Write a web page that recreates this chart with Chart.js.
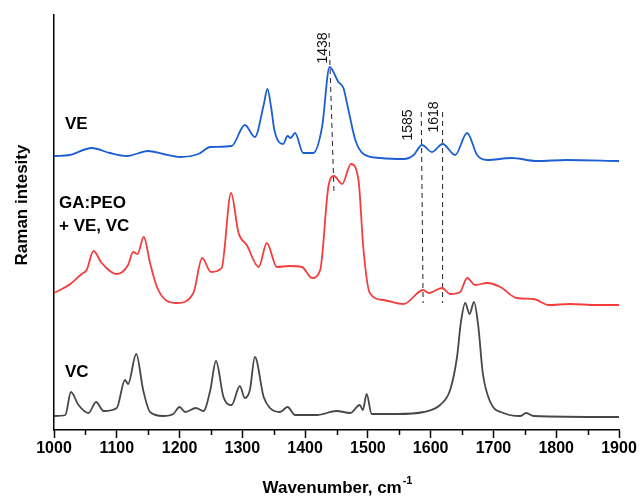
<!DOCTYPE html>
<html>
<head>
<meta charset="utf-8">
<script src="https://cdn.jsdelivr.net/npm/chart.js@4.4.1/dist/chart.umd.min.js"></script>
<style>
  html, body { margin: 0; padding: 0; background: #fff; }
  #wrap { width: 641px; height: 496px; }
</style>
</head>
<body>
<div id="wrap"><canvas id="ramanChart"></canvas></div>
<script>
// Wavenumbers (cm-1) and intensities (arbitrary, stacked offsets)
const veWavenumbers = [1000, 1025, 1060, 1089, 1116, 1150, 1174, 1201, 1230, 1249, 1283, 1304, 1320, 1334, 1340, 1346, 1351, 1365, 1372, 1377, 1384, 1397, 1413, 1427, 1439, 1453, 1461, 1469, 1480, 1493, 1520, 1557, 1573, 1586, 1602, 1619, 1639, 1658, 1674, 1690, 1729, 1769, 1817, 1900];
const veValues = [274, 275, 282, 277, 274, 279, 276, 273, 276, 283, 284, 305, 293, 325, 341, 322, 300, 286, 294, 292, 297, 277, 277, 303, 363, 348, 342, 320, 290, 276, 272, 271, 275, 285, 278, 286, 275, 297, 275, 270, 272, 269, 270, 269];

const mixWavenumbers = [1000, 1026, 1044, 1052, 1063, 1076, 1100, 1118, 1126, 1133, 1143, 1153, 1164, 1180, 1196, 1222, 1236, 1250, 1267, 1282, 1294, 1307, 1326, 1339, 1355, 1375, 1395, 1411, 1424, 1437, 1446, 1459, 1473, 1485, 1493, 1503, 1525, 1557, 1588, 1597, 1618, 1631, 1647, 1658, 1671, 1690, 1711, 1737, 1764, 1788, 1822, 1865, 1900];
const mixValues = [137, 146, 156, 160, 179, 167, 156, 165, 178, 176, 193, 167, 143, 129, 127, 137, 172, 158, 162, 237, 197, 185, 163, 187, 163, 164, 163, 152, 160, 243, 254, 246, 266, 250, 180, 137, 130, 126, 140, 137, 142, 136, 138, 152, 145, 147, 143, 132, 131, 125, 126, 125, 125];

const vcWavenumbers = [1000, 1018, 1027, 1039, 1055, 1067, 1079, 1100, 1113, 1118, 1131, 1142, 1153, 1174, 1190, 1200, 1209, 1226, 1238, 1249, 1258, 1270, 1283, 1296, 1304, 1312, 1320, 1334, 1344, 1360, 1372, 1384, 1419, 1450, 1472, 1487, 1492, 1498, 1506, 1546, 1589, 1615, 1631, 1642, 1648, 1655, 1662, 1669, 1676, 1683, 1695, 1716, 1743, 1752, 1764, 1900];
const vcValues = [14, 15, 38, 25, 17, 28, 19, 22, 50, 46, 76, 40, 18, 14, 16, 23, 18, 22, 19, 40, 69, 33, 25, 44, 32, 40, 73, 33, 22, 18, 23, 15, 15, 19, 17, 25, 20, 36, 16, 16, 18, 25, 40, 73, 107, 127, 116, 128, 103, 57, 28, 17, 14, 17, 14, 13];

// Dashed marker lines: [top x, top y, bottom x, bottom y]
const peakLabels = ['1438', '1585', '1618'];
const peakLines = [
  [1438, 397, 1446, 238],
  [1585, 318, 1588, 127],
  [1619, 318, 1619, 127]
];
const peakLabelPos = [[1428, 382], [1564, 305], [1606, 313]];

const xTicks = [1000, 1100, 1200, 1300, 1400, 1500, 1600, 1700, 1800, 1900];

const FONT = '"Liberation Sans", Arial, sans-serif';

function toPoints(xs, ys) {
  return xs.map((x, i) => ({ x: x, y: ys[i] }));
}

function spectrum(label, xs, ys, color) {
  return {
    label: label,
    data: toPoints(xs, ys),
    borderColor: color,
    borderWidth: 1.8,
    pointRadius: 0,
    cubicInterpolationMode: 'monotone',
    fill: false
  };
}

const datasets = [
  spectrum('VE', veWavenumbers, veValues, '#1b5fd3'),
  spectrum('GA:PEO + VE, VC', mixWavenumbers, mixValues, '#f43d3d'),
  spectrum('VC', vcWavenumbers, vcValues, '#474747')
];

peakLines.forEach((l, i) => {
  datasets.push({
    label: 'peak ' + peakLabels[i],
    data: [{ x: l[0], y: l[1] }, { x: l[2], y: l[3] }],
    borderColor: '#222',
    borderWidth: 1,
    borderDash: [5, 4],
    pointRadius: 0,
    fill: false
  });
});

// Text annotations, minor ticks and axis titles
const decorations = {
  id: 'decorations',
  afterDraw(chart) {
    const { ctx, chartArea, scales } = chart;
    const xs = scales.x, ys = scales.y;
    ctx.save();

    // minor ticks every 50
    ctx.strokeStyle = '#000';
    ctx.lineWidth = 1.5;
    for (let v = 1050; v < 1900; v += 100) {
      const px = Math.round(xs.getPixelForValue(v)) + 0.5;
      ctx.beginPath();
      ctx.moveTo(px, chartArea.bottom);
      ctx.lineTo(px, chartArea.bottom + 5);
      ctx.stroke();
    }

    // peak labels, rotated
    ctx.fillStyle = '#111';
    ctx.font = '14px ' + FONT;
    ctx.textAlign = 'center';
    ctx.textBaseline = 'middle';
    peakLabels.forEach((t, i) => {
      const px = xs.getPixelForValue(peakLabelPos[i][0]);
      const py = ys.getPixelForValue(peakLabelPos[i][1]);
      ctx.save();
      ctx.translate(px, py);
      ctx.rotate(-Math.PI / 2);
      ctx.fillText(t, 0, 0);
      ctx.restore();
    });

    // series labels
    ctx.fillStyle = '#000';
    ctx.font = 'bold 17px ' + FONT;
    ctx.textAlign = 'left';
    ctx.fillText('VE', 65, 124);
    ctx.fillText('GA:PEO', 59, 203);
    ctx.fillText('+ VE, VC', 59, 226);
    ctx.fillText('VC', 65, 372);

    // y title
    ctx.save();
    ctx.translate(22, 205);
    ctx.rotate(-Math.PI / 2);
    ctx.textAlign = 'center';
    ctx.font = 'bold 17px ' + FONT;
    ctx.fillText('Raman intesity', 0, 0);
    ctx.restore();

    // x title with superscript
    ctx.font = 'bold 17px ' + FONT;
    const main = 'Wavenumber, cm';
    const wMain = ctx.measureText(main).width;
    ctx.font = 'bold 11px ' + FONT;
    const wSup = ctx.measureText('-1').width;
    const startX = 337 - (wMain + wSup) / 2;
    ctx.font = 'bold 17px ' + FONT;
    ctx.textAlign = 'left';
    ctx.fillText(main, startX, 488);
    ctx.font = 'bold 11px ' + FONT;
    ctx.fillText('-1', startX + wMain + 1, 481);

    ctx.restore();
  }
};

new Chart(document.getElementById('ramanChart'), {
  type: 'line',
  data: { datasets: datasets },
  options: {
    responsive: true,
    maintainAspectRatio: false,
    animation: false,
    layout: { padding: { top: 15, right: 22, left: 0, bottom: 0 } },
    plugins: {
      legend: { display: false },
      tooltip: { enabled: false }
    },
    scales: {
      x: {
        type: 'linear',
        min: 1000,
        max: 1900,
        afterFit: (s) => { s.height = 66; },
        afterBuildTicks: (s) => { s.ticks = xTicks.map(v => ({ value: v })); },
        grid: {
          drawOnChartArea: false,
          drawTicks: true,
          tickLength: 8,
          tickColor: '#000',
          tickWidth: 1.5
        },
        border: { display: true, color: '#000', width: 1.5 },
        ticks: {
          color: '#000',
          padding: 1,
          maxRotation: 0,
          callback: (v) => String(v),
          font: { family: FONT, size: 16, weight: 'bold' }
        }
      },
      y: {
        type: 'linear',
        min: 0,
        max: 415,
        afterFit: (s) => { s.width = 54; },
        grid: { display: false },
        border: { display: true, color: '#000', width: 1.5 },
        ticks: { display: false }
      }
    }
  },
  plugins: [decorations]
});
</script>
</body>
</html>
